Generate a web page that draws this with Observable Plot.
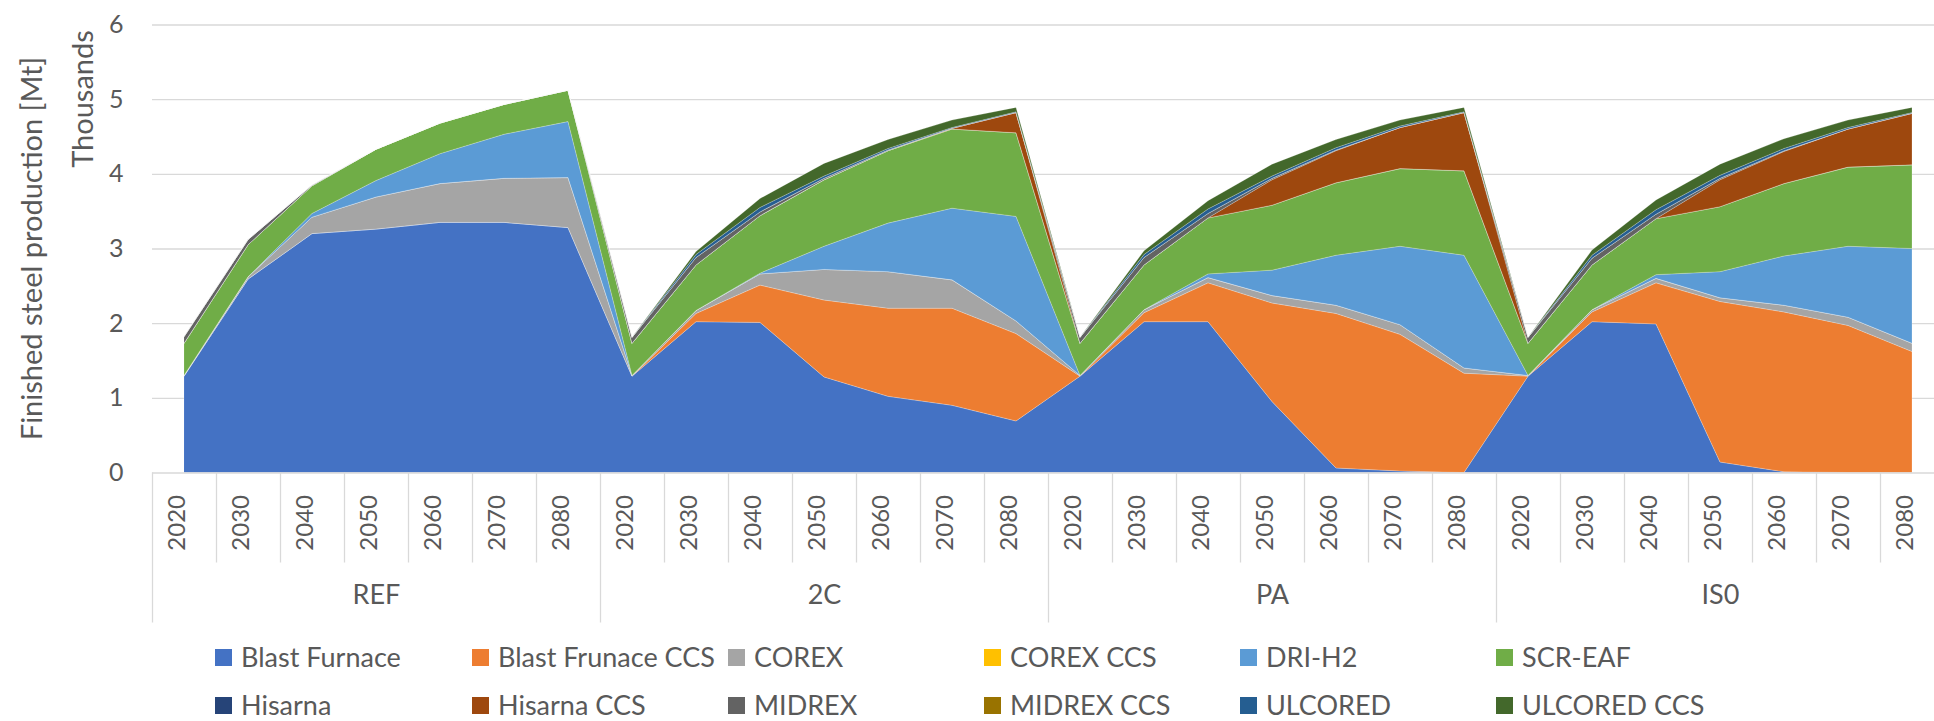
<!DOCTYPE html>
<html>
<head>
<meta charset="utf-8">
<script src="https://cdn.jsdelivr.net/npm/d3@7"></script>
<script src="https://cdn.jsdelivr.net/npm/@observablehq/plot@0.6"></script>
<style>
  html, body { margin: 0; padding: 0; background: #fff; overflow: hidden; }
  #wrap { position: relative; width: 1934px; height: 721px; font-family: Lato, "Open Sans", sans-serif; color: #595959; }
  .leg { position: absolute; display: flex; align-items: center; font-size: 27px; white-space: nowrap; line-height: 24px; height: 24px; }
  .sw { width: 17px; height: 17px; margin-right: 9px; flex: none; }
</style>
</head>
<body>
<div id="wrap"></div>
<script>
const years = ["2020", "2030", "2040", "2050", "2060", "2070", "2080"];
const scenarios = ["REF", "2C", "PA", "IS0"];
const seriesNames = ["Blast Furnace", "Blast Frunace CCS", "COREX", "COREX CCS", "DRI-H2", "SCR-EAF",
  "Hisarna", "Hisarna CCS", "MIDREX", "MIDREX CCS", "ULCORED", "ULCORED CCS"];
const seriesColors = ["#4472C4", "#ED7D31", "#A5A5A5", "#FFC000", "#5B9BD5", "#70AD47",
  "#264478", "#9E480E", "#636363", "#997300", "#255E91", "#43682B"];
const yTicks = [0, 1, 2, 3, 4, 5, 6];
const yTitle = "Finished steel production [Mt]";
const yUnit = "Thousands";

// values in thousands of Mt; order: REF, 2C, PA, IS0 × 2020..2080
const blastFurnace = [1.29, 2.59, 3.20, 3.26, 3.35, 3.35, 3.28, 1.29, 2.02, 2.01, 1.28, 1.02, 0.90, 0.69, 1.29, 2.02, 2.02, 0.95, 0.06, 0.02, 0.00, 1.29, 2.02, 1.99, 0.14, 0.01, 0.00, 0.00];
const blastFurnaceCCS = [0, 0, 0, 0, 0, 0, 0, 0, 0.11, 0.50, 1.03, 1.18, 1.30, 1.17, 0, 0.12, 0.52, 1.32, 2.07, 1.83, 1.33, 0, 0.13, 0.55, 2.15, 2.14, 1.97, 1.62];
const corex = [0.01, 0.03, 0.22, 0.43, 0.52, 0.59, 0.67, 0.01, 0.04, 0.15, 0.41, 0.49, 0.38, 0.17, 0.01, 0.04, 0.07, 0.10, 0.11, 0.13, 0.07, 0.01, 0.03, 0.06, 0.05, 0.09, 0.11, 0.11];
const corexCCS = [0, 0, 0, 0, 0, 0, 0, 0, 0, 0, 0, 0, 0, 0, 0, 0, 0, 0, 0, 0, 0, 0, 0, 0, 0, 0, 0, 0];
const driH2 = [0, 0, 0.05, 0.22, 0.40, 0.59, 0.75, 0, 0, 0.01, 0.31, 0.65, 0.96, 1.40, 0, 0, 0.05, 0.34, 0.67, 1.05, 1.51, 0, 0, 0.05, 0.35, 0.66, 0.95, 1.27];
const scrEAF = [0.43, 0.43, 0.37, 0.42, 0.41, 0.40, 0.42, 0.43, 0.61, 0.77, 0.89, 0.97, 1.06, 1.12, 0.43, 0.60, 0.75, 0.87, 0.97, 1.04, 1.13, 0.43, 0.60, 0.75, 0.87, 0.97, 1.06, 1.12];
const hisarna = [0, 0, 0, 0, 0, 0, 0, 0, 0, 0, 0, 0, 0, 0, 0, 0, 0, 0, 0, 0, 0, 0, 0, 0, 0, 0, 0, 0];
const hisarnaCCS = [0, 0, 0, 0, 0, 0, 0, 0, 0, 0, 0, 0, 0.01, 0.27, 0, 0, 0, 0.34, 0.43, 0.55, 0.78, 0, 0, 0, 0.36, 0.43, 0.51, 0.69];
const midrex = [0.09, 0.07, 0.01, 0, 0, 0, 0, 0.08, 0.10, 0.05, 0.02, 0.01, 0, 0, 0.08, 0.10, 0.06, 0.02, 0.01, 0, 0, 0.08, 0.09, 0.06, 0.02, 0.01, 0, 0];
const midrexCCS = [0, 0, 0, 0, 0, 0, 0, 0, 0, 0, 0, 0, 0, 0, 0, 0, 0, 0, 0, 0, 0, 0, 0, 0, 0, 0, 0, 0];
const ulcored = [0, 0, 0, 0, 0, 0, 0, 0, 0.04, 0.06, 0.03, 0.02, 0.01, 0.01, 0, 0.04, 0.06, 0.03, 0.03, 0.02, 0.01, 0, 0.04, 0.06, 0.04, 0.03, 0.02, 0.01];
const ulcoredCCS = [0, 0, 0, 0, 0, 0, 0, 0, 0.04, 0.12, 0.17, 0.12, 0.10, 0.06, 0, 0.05, 0.11, 0.16, 0.11, 0.08, 0.06, 0, 0.07, 0.13, 0.15, 0.13, 0.10, 0.07];

const seriesValues = [blastFurnace, blastFurnaceCCS, corex, corexCCS, driH2, scrEAF,
  hisarna, hisarnaCCS, midrex, midrexCCS, ulcored, ulcoredCCS];

// category index table
const categories = [];
scenarios.forEach((s, g) => years.forEach((y, k) => categories.push({i: g * years.length + k, year: y, scenario: s})));
const rows = [];
seriesNames.forEach((name, s) => categories.forEach(c => rows.push({i: c.i, series: name, value: seriesValues[s][c.i]})));

const n = categories.length;
const boundaries = d3.range(n + 1).map(k => k - 0.5);
const groupBounds = scenarios.map((s, g) => g * years.length - 0.5).concat([n - 0.5]);
const innerBounds = boundaries.filter(b => !groupBounds.includes(b));
const groupCenters = scenarios.map((s, g) => ({x: g * years.length + (years.length - 1) / 2, label: s}));

const W = 1934, H = 630;
const chart = Plot.plot({
  width: W,
  height: H,
  marginLeft: 152,
  marginRight: -10,
  marginTop: 24.5,
  marginBottom: 157.5,
  style: {fontFamily: "Lato, 'Open Sans', sans-serif", fontSize: "24px", color: "#595959", background: "#fff", overflow: "hidden"},
  x: {type: "linear", domain: [-0.5, n - 0.5], range: [152, 1944], axis: null},
  y: {domain: [0, 6], axis: null},
  color: {domain: seriesNames, range: seriesColors},
  marks: [
    Plot.ruleY(yTicks.filter(t => t > 0), {stroke: "#d9d9d9", strokeWidth: 1.3}),
    Plot.areaY(rows, {x: "i", y: "value", z: "series", fill: "series", stroke: "#ffffff", strokeWidth: 0.5, strokeOpacity: 0.45}),
    Plot.ruleY([0], {stroke: "#d9d9d9", strokeWidth: 1.5}),
    // category separators
    Plot.axisX(innerBounds, {anchor: "bottom", tickSize: 90, tickFormat: () => "", stroke: "#d9d9d9", strokeWidth: 1.3, label: null}),
    Plot.axisX(groupBounds, {anchor: "bottom", tickSize: 150, tickFormat: () => "", stroke: "#d9d9d9", strokeWidth: 1.3, label: null}),
    // year labels
    Plot.text(categories, {x: "i", frameAnchor: "bottom", text: "year", rotate: -90, textAnchor: "end", dy: 22, fontSize: 24, fill: "#595959"}),
    // scenario labels
    Plot.text(groupCenters, {x: "x", text: "label", frameAnchor: "bottom", dy: 131, fontSize: 27, fill: "#595959"}),
    // y tick labels
    Plot.text(yTicks, {x: -0.5, y: d => d, text: d => String(d), textAnchor: "end", dx: -29, fontSize: 25, fill: "#595959"})
  ]
});

const wrap = document.getElementById("wrap");
wrap.appendChild(chart);

// axis titles (rotated), placed in the SVG margin
const svg = d3.select(chart.tagName.toLowerCase() === "svg" ? chart : chart.querySelector("svg"));
svg.append("text")
  .attr("transform", "translate(30,248.5) rotate(-90)")
  .attr("text-anchor", "middle").attr("dominant-baseline", "central")
  .attr("fill", "#595959").style("font-size", "29px").style("font-family", "Lato, 'Open Sans', sans-serif")
  .text(yTitle);
svg.append("text")
  .attr("transform", "translate(81,99) rotate(-90)")
  .attr("text-anchor", "middle").attr("dominant-baseline", "central")
  .attr("fill", "#595959").style("font-size", "29px").style("font-family", "Lato, 'Open Sans', sans-serif")
  .text(yUnit);

// legend (2 rows × 6 columns)
const legX = [215, 472, 728, 984, 1240, 1496];
const legY = [657, 705];
seriesNames.forEach((name, s) => {
  const item = document.createElement("div");
  item.className = "leg";
  item.style.left = legX[s % 6] + "px";
  item.style.top = (legY[Math.floor(s / 6)] - 12) + "px";
  const sw = document.createElement("span");
  sw.className = "sw";
  sw.style.background = seriesColors[s];
  const tx = document.createElement("span");
  tx.textContent = name;
  item.appendChild(sw);
  item.appendChild(tx);
  wrap.appendChild(item);
});
</script>
</body>
</html>
